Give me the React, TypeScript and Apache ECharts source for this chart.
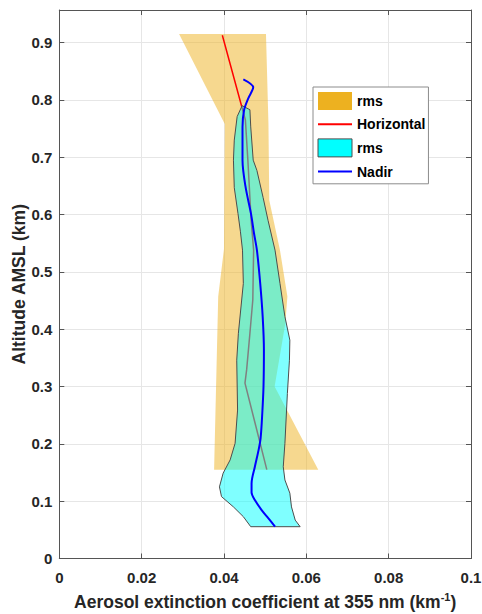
import React, { useEffect, useRef } from "react";
import * as echarts from "echarts";

// Horizontal rms envelope (orange): polygon, left edge top->bottom, right edge bottom->top
const hRmsX = [0.0291, 0.0402, 0.04, 0.0386, 0.0376, 0.0629, 0.0523, 0.0549, 0.0554, 0.0536, 0.051, 0.0508, 0.0502];
const hRmsY = [0.915, 0.758, 0.54, 0.457, 0.155, 0.155, 0.3, 0.41, 0.457, 0.538, 0.625, 0.758, 0.915];

// Horizontal mean profile
const hMeanX = [0.0396, 0.0452, 0.0458, 0.0466, 0.0472, 0.047, 0.0463, 0.0455, 0.0451, 0.0504];
const hMeanY = [0.913, 0.765, 0.695, 0.59, 0.538, 0.451, 0.393, 0.329, 0.306, 0.155];

// Nadir rms envelope (cyan): polygon
const nRmsX = [
  0.0444, 0.0432, 0.0425, 0.0423, 0.0425, 0.0434, 0.044, 0.0445, 0.0447, 0.0443, 0.0435, 0.0431, 0.0433,
  0.0427, 0.0415, 0.0398, 0.0389, 0.0394, 0.0423, 0.0447, 0.0465,
  0.0585, 0.0573, 0.0564, 0.056, 0.0548, 0.0544, 0.0548, 0.0554, 0.0559, 0.056, 0.0548, 0.0536, 0.0524,
  0.0507, 0.0495, 0.048, 0.0471, 0.0465, 0.0463,
];
const nRmsY = [
  0.79, 0.771, 0.73, 0.695, 0.647, 0.602, 0.57, 0.538, 0.48, 0.451, 0.393, 0.346, 0.259,
  0.201, 0.172, 0.149, 0.125, 0.108, 0.09, 0.073, 0.0555,
  0.0555, 0.067, 0.09, 0.114, 0.137, 0.16, 0.201, 0.288, 0.346, 0.381, 0.422, 0.48, 0.538,
  0.59, 0.63, 0.677, 0.695, 0.753, 0.783,
];

// Nadir mean profile
const nMeanX = [
  0.0447, 0.0471, 0.0459, 0.0449, 0.0445, 0.0445, 0.0452, 0.0466, 0.0473, 0.048, 0.0488, 0.0494, 0.0497,
  0.0496, 0.0493, 0.0489, 0.0484, 0.0475, 0.0467, 0.0467, 0.0475, 0.0491, 0.0508, 0.0524,
];
const nMeanY = [
  0.836, 0.822, 0.803, 0.783, 0.753, 0.695, 0.65, 0.6, 0.567, 0.538, 0.48, 0.422, 0.364,
  0.3, 0.253, 0.21, 0.189, 0.16, 0.131, 0.115, 0.102, 0.085, 0.07, 0.0555,
];

const xTicks = { min: 0, max: 0.1, interval: 0.02 };
const yTicks = { min: 0, max: 0.957, interval: 0.1 };

const FONT = "'Liberation Sans', Arial, Helvetica, sans-serif";

function polygonSeries(name: string, xs: number[], ys: number[], fill: string, stroke: string | null, legendColor: string, z: number) {
  return {
    type: "custom",
    name,
    z,
    xAxisIndex: 0,
    yAxisIndex: 0,
    itemStyle: { color: legendColor },
    data: xs.map((x, i) => [x, ys[i]]),
    renderItem: (params: any, api: any) => {
      if (params.dataIndex !== 0) return null;
      const pts = xs.map((x, i) => api.coord([x, ys[i]]));
      return {
        type: "polygon",
        shape: { points: pts },
        style: stroke
          ? { fill, stroke, lineWidth: 1 }
          : { fill, stroke: "none", lineWidth: 0 },
      };
    },
  };
}

export default function App() {
  const ref = useRef<HTMLDivElement>(null);
  useEffect(() => {
    if (!ref.current) return;
    const chart = echarts.init(ref.current, undefined, { renderer: "svg" });
    const axisColor = "#555555";
    const labelColor = "#262626";
    chart.setOption({
      animation: false,
      textStyle: { fontFamily: FONT },
      grid: { left: 59.3, right: 11, top: 10, bottom: 55.5, containLabel: false, outerBoundsMode: "none" },
      legend: {
        orient: "vertical",
        left: 313,
        top: 87,
        padding: [5, 3, 5, 4],
        itemWidth: 34,
        itemHeight: 18,
        itemGap: 7,
        backgroundColor: "#ffffff",
        borderColor: "#8c8c8c",
        borderWidth: 1,
        borderRadius: 0,
        textStyle: { fontFamily: FONT, fontWeight: "bold", fontSize: 14, color: "#000" },
        formatter: (n: string) => (n.startsWith("rms") ? "rms" : n),
        data: [
          { name: "rms_h", icon: "rect", itemStyle: { color: "#EDB120", borderWidth: 0 } },
          { name: "Horizontal", itemStyle: { opacity: 0 } },
          { name: "rms_n", icon: "rect", itemStyle: { color: "#00FFFF", borderColor: "#4d4d4d", borderWidth: 1 } },
          { name: "Nadir", itemStyle: { opacity: 0 } },
        ],
      },
      xAxis: [
        {
          type: "value",
          min: xTicks.min,
          max: xTicks.max,
          interval: xTicks.interval,
          position: "bottom",
          name: "Aerosol extinction coefficient at 355 nm (km{sup|-1})",
          nameLocation: "middle",
          nameGap: 32.5,
          nameTextStyle: {
            fontFamily: FONT,
            fontWeight: "bold",
            fontSize: 17.5,
            color: labelColor,
            lineHeight: 22,
            rich: {
              sup: { fontFamily: FONT, fontWeight: "bold", fontSize: 11, color: labelColor, verticalAlign: "top", lineHeight: 12 },
            },
          },
          axisLine: { show: true, lineStyle: { color: axisColor, width: 1 } },
          axisTick: { show: true, inside: true, length: 5, lineStyle: { color: axisColor } },
          axisLabel: { fontFamily: FONT, fontWeight: "bold", fontSize: 15, color: labelColor, margin: 11 },
          splitLine: { show: true, lineStyle: { color: "#e6e6e6", width: 1 } },
        },
        {
          type: "value",
          min: xTicks.min,
          max: xTicks.max,
          interval: xTicks.interval,
          position: "top",
          axisLine: { show: true, onZero: false, lineStyle: { color: axisColor, width: 1 } },
          axisTick: { show: true, inside: true, length: 5, lineStyle: { color: axisColor } },
          axisLabel: { show: false },
          splitLine: { show: false },
        },
      ],
      yAxis: [
        {
          type: "value",
          min: yTicks.min,
          max: yTicks.max,
          interval: yTicks.interval,
          position: "left",
          name: "Altitude AMSL (km)",
          nameLocation: "middle",
          nameGap: 31,
          nameMoveOverlap: false,
          nameTextStyle: { fontFamily: FONT, fontWeight: "bold", fontSize: 17.5, color: labelColor },
          axisLine: { show: true, lineStyle: { color: axisColor, width: 1 } },
          axisTick: { show: true, inside: true, length: 5, lineStyle: { color: axisColor } },
          axisLabel: { fontFamily: FONT, fontWeight: "bold", fontSize: 15, color: labelColor, margin: 7, showMaxLabel: false },
          splitLine: { show: true, lineStyle: { color: "#e6e6e6", width: 1 } },
        },
        {
          type: "value",
          min: yTicks.min,
          max: yTicks.max,
          interval: yTicks.interval,
          position: "right",
          axisLine: { show: true, onZero: false, lineStyle: { color: axisColor, width: 1 } },
          axisTick: { show: true, inside: true, length: 5, lineStyle: { color: axisColor } },
          axisLabel: { show: false },
          splitLine: { show: false },
        },
      ],
      series: [
        polygonSeries("rms_h", hRmsX, hRmsY, "rgba(237,177,32,0.5)", null, "#EDB120", 2),
        {
          type: "line",
          name: "Horizontal",
          z: 3,
          xAxisIndex: 0,
          yAxisIndex: 0,
          symbol: "none",
          color: "#FF0000",
          lineStyle: { color: "#FF0000", width: 1.5 },
          data: hMeanX.map((x, i) => [x, hMeanY[i]]),
        },
        polygonSeries("rms_n", nRmsX, nRmsY, "rgba(0,255,255,0.5)", "#4d4d4d", "#00FFFF", 4),
        {
          type: "line",
          name: "Nadir",
          z: 5,
          xAxisIndex: 0,
          yAxisIndex: 0,
          symbol: "none",
          smooth: 0.3,
          color: "#0000FF",
          lineStyle: { color: "#0000FF", width: 2 },
          data: nMeanX.map((x, i) => [x, nMeanY[i]]),
        },
      ],
    });
    return () => chart.dispose();
  }, []);
  return (
    <div
      ref={ref}
      style={{ position: "fixed", left: 0, top: 0, width: 482, height: 614, background: "#fff" }}
    />
  );
}
